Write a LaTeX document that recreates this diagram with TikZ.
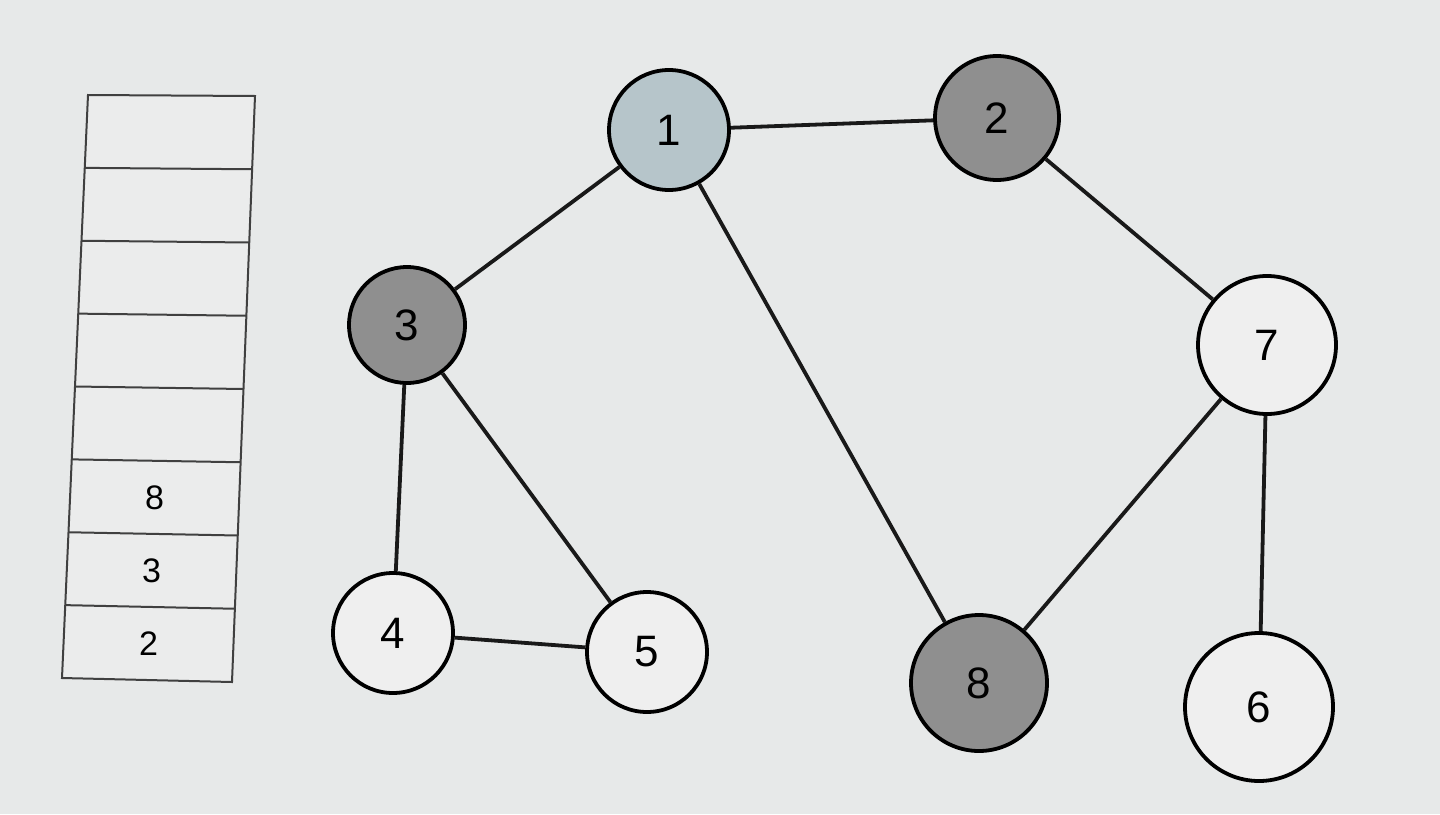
\documentclass[tikz,border=0pt]{standalone}
\usepackage{fontspec}
\setsansfont{Liberation Sans}
\usetikzlibrary{calc}
\definecolor{bgc}{HTML}{E7E9E9}
\definecolor{cellc}{HTML}{EBECEC}
\definecolor{startc}{HTML}{B6C5CA}
\definecolor{visitc}{HTML}{8F8F8F}
\definecolor{openc}{HTML}{EFEFEF}
\tikzset{
  vtx/.style={circle, draw=black, line width=3.8pt, inner sep=0pt,
    font=\sffamily\fontsize{44}{50}\selectfont},
  startv/.style={vtx, fill=startc},
  visitv/.style={vtx, fill=visitc},
  openv/.style={vtx, fill=openc},
  edge/.style={line width=3.8pt, draw=black!90},
  qline/.style={line width=2pt, draw=black!75},
  qlabel/.style={font=\sffamily\fontsize{34}{40}\selectfont}
}
\begin{document}
\begin{tikzpicture}[x=1pt,y=-1pt]
\useasboundingbox (0,0) rectangle (1440,814);
\fill[bgc] (0,0) rectangle (1440,814);
% queue
\coordinate (TL) at (88,95);
\coordinate (TR) at (255,96);
\coordinate (BL) at (62,678);
\coordinate (BR) at (232,682);
\fill[cellc] (TL) -- (TR) -- (BR) -- (BL) -- cycle;
\draw[qline] (TL) -- (TR) -- (BR) -- (BL) -- cycle;
\foreach \k in {1,...,7}{
  \draw[qline] ($(TL)!\k/8!(BL)$) -- ($(TR)!\k/8!(BR)$);
}
\node[qlabel] (q8) at ($($(TL)!5.5/8!(BL)$)!0.5!($(TR)!5.5/8!(BR)$)$) {8};
\node[qlabel] (q3) at ($($(TL)!6.5/8!(BL)$)!0.5!($(TR)!6.5/8!(BR)$)$) {3};
\node[qlabel] (q2) at ($($(TL)!7.5/8!(BL)$)!0.5!($(TR)!7.5/8!(BR)$)$) {2};
% graph
\node[startv, minimum size=120pt] (n1) at (669,130) {1};
\node[visitv, minimum size=124pt] (n2) at (997,118) {2};
\node[visitv, minimum size=116pt] (n3) at (407,325) {3};
\node[openv, minimum size=138pt] (n7) at (1267,345) {7};
\node[openv, minimum size=120pt] (n4) at (393,633) {4};
\node[openv, minimum size=120pt] (n5) at (647,652) {5};
\node[visitv, minimum size=136pt] (n8) at (979,683) {8};
\node[openv, minimum size=148pt] (n6) at (1259,707) {6};
\draw[edge] (n1) -- (n2);
\draw[edge] (n1) -- (n3);
\draw[edge] (n1) -- (n8);
\draw[edge] (n2) -- (n7);
\draw[edge] (n3) -- (n4);
\draw[edge] (n3) -- (n5);
\draw[edge] (n4) -- (n5);
\draw[edge] (n7) -- (n8);
\draw[edge] (n7) -- (n6);
\end{tikzpicture}
\end{document}
